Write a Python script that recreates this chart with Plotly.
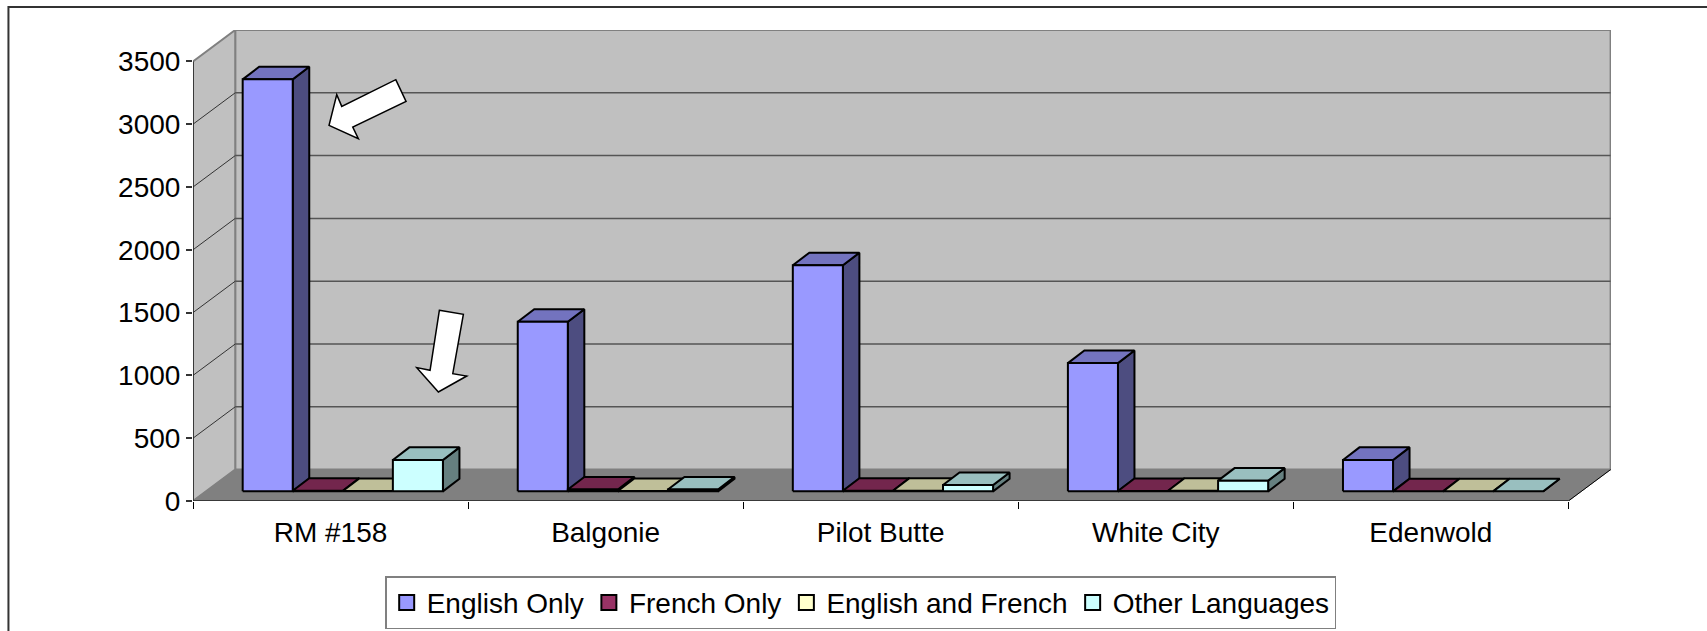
import plotly.graph_objects as go

categories = ["RM #158", "Balgonie", "Pilot Butte", "White City", "Edenwold"]
english_only = [3280, 1350, 1800, 1021, 250]
french_only = [5, 15, 5, 3, 0]
english_and_french = [3, 3, 5, 5, 0]
other_languages = [250, 15, 50, 85, 0]
y_ticks = [0, 500, 1000, 1500, 2000, 2500, 3000, 3500]

series_names = ["English Only", "French Only", "English and French", "Other Languages"]
series_values = [english_only, french_only, english_and_french, other_languages]
front_colors = ["#9999FF", "#993366", "#FFFFCC", "#CCFFFF"]
top_colors = ["#7373BF", "#73264D", "#BFBF99", "#99BFBF"]
side_colors = ["#4D4D80", "#4D1A33", "#808066", "#668080"]

W, H = 1707, 631
L, T, PW, PH = 193.0, 29.6, 1417.6, 471.1
X_MAX = 5.155
Y_MAX = 3750
DEPTH_X, DEPTH_Y = 0.1535, 250
BAR_W, BAR_DX, BAR_DY = 0.182, 0.06, 100
BAR_X0, BAR_Y0 = 0.1806, 77

fig = go.Figure()


def poly(xs, ys, fill=None, color="black", width=2):
    closed = fill is not None
    fig.add_trace(go.Scatter(
        x=list(xs) + ([xs[0]] if closed else []),
        y=list(ys) + ([ys[0]] if closed else []),
        mode="lines", fill="toself" if closed else "none",
        fillcolor=fill, line=dict(color=color, width=width),
        showlegend=False, hoverinfo="skip"))


n = len(categories)
top = y_ticks[-1]
# back wall, side wall, floor
poly([DEPTH_X, n + DEPTH_X, n + DEPTH_X, DEPTH_X],
     [DEPTH_Y, DEPTH_Y, top + DEPTH_Y, top + DEPTH_Y], "#C0C0C0", "#808080", 2)
poly([0, DEPTH_X, DEPTH_X, 0], [0, DEPTH_Y, top + DEPTH_Y, top], "#C0C0C0", "#808080", 2)
for v in y_ticks[1:-1]:
    poly([DEPTH_X, n + DEPTH_X], [v + DEPTH_Y, v + DEPTH_Y], color="#555555", width=1.5)
    poly([0, DEPTH_X], [v, v + DEPTH_Y], color="#333333", width=1)
poly([0, n, n + DEPTH_X, DEPTH_X], [0, 0, DEPTH_Y, DEPTH_Y], "#808080", "#808080", 1)
poly([n, n + DEPTH_X], [0, DEPTH_Y], color="black", width=1)
poly([0, n], [0, 0], color="#222222", width=1.5)
poly([0, 0], [0, top], color="#222222", width=1.5)

# bars as oblique boxes
for c in range(n):
    for s, values in enumerate(series_values):
        v = values[c]
        x0 = c + BAR_X0 + s * BAR_W
        x1 = x0 + BAR_W
        y0, y1 = BAR_Y0, BAR_Y0 + v
        poly([x1, x1 + BAR_DX, x1 + BAR_DX, x1], [y0, y0 + BAR_DY, y1 + BAR_DY, y1], side_colors[s])
        poly([x0, x1, x1 + BAR_DX, x0 + BAR_DX], [y1, y1, y1 + BAR_DY, y1 + BAR_DY], top_colors[s])
        if v > 0:
            poly([x0, x1, x1, x0], [y0, y0, y1, y1], front_colors[s])

# legend entries
for s, name in enumerate(series_names):
    fig.add_trace(go.Scatter(x=[None], y=[None], name=name, mode="markers",
                             marker=dict(symbol="square", size=15, color=front_colors[s],
                                         line=dict(color="black", width=2))))


def to_path(points):
    pts = [((x - L) / PW, 1 - (y - T) / PH) for x, y in points]
    return "M " + " L ".join(f"{x:.5f},{y:.5f}" for x, y in pts) + " Z"


arrow_a = [(395.7, 79.3), (406, 101), (352.7, 126.7), (358.3, 138.3), (329, 125), (336.7, 94.3), (341.7, 106)]
arrow_b = [(439.3, 310), (463.3, 314), (452.7, 373.3), (466.7, 375.7), (438.3, 391.7), (416.7, 367.3), (430, 370)]
shapes = [dict(type="path", path=to_path(a), xref="paper", yref="paper",
               fillcolor="white", line=dict(color="black", width=1.5)) for a in (arrow_a, arrow_b)]
# outer chart frame
shapes.append(dict(type="path", xref="paper", yref="paper",
                   path=to_path([(8.5, H + 5), (8.5, 6.5), (W + 5, 6.5)]).replace(" Z", ""),
                   line=dict(color="#333333", width=2)))

fig.update_layout(
    width=W, height=H, autosize=False,
    margin=dict(l=L, r=W - L - PW, t=T, b=H - T - PH, pad=0, autoexpand=False),
    paper_bgcolor="white", plot_bgcolor="white",
    font=dict(family="Liberation Sans, Arial, sans-serif", size=28, color="black"),
    shapes=shapes,
    xaxis=dict(range=[0, X_MAX], tickmode="array",
               tickvals=[i + 0.5 for i in range(n)], ticktext=categories,
               ticks="", showgrid=False, zeroline=False, showline=False,
               ticklabelstandoff=12,
               minor=dict(tickmode="array", tickvals=list(range(n + 1)), ticks="outside",
                          ticklen=7, tickwidth=1, tickcolor="black", showgrid=False)),
    yaxis=dict(range=[0, Y_MAX], tickmode="array", tickvals=y_ticks,
               ticks="outside", ticklen=6, tickwidth=1.5, tickcolor="#333333",
               showgrid=False, zeroline=False, showline=False),
    legend=dict(orientation="h", xref="paper", yref="paper",
                x=(860.5 - L) / PW, xanchor="center",
                y=1 - (629 - T) / PH, yanchor="bottom",
                bgcolor="white", bordercolor="#808080", borderwidth=1.5,
                font=dict(size=28), traceorder="normal"),
)

fig.write_html("out.html", config={"displayModeBar": False},
               post_script="document.body.style.margin='0';document.body.style.overflow='hidden';")
